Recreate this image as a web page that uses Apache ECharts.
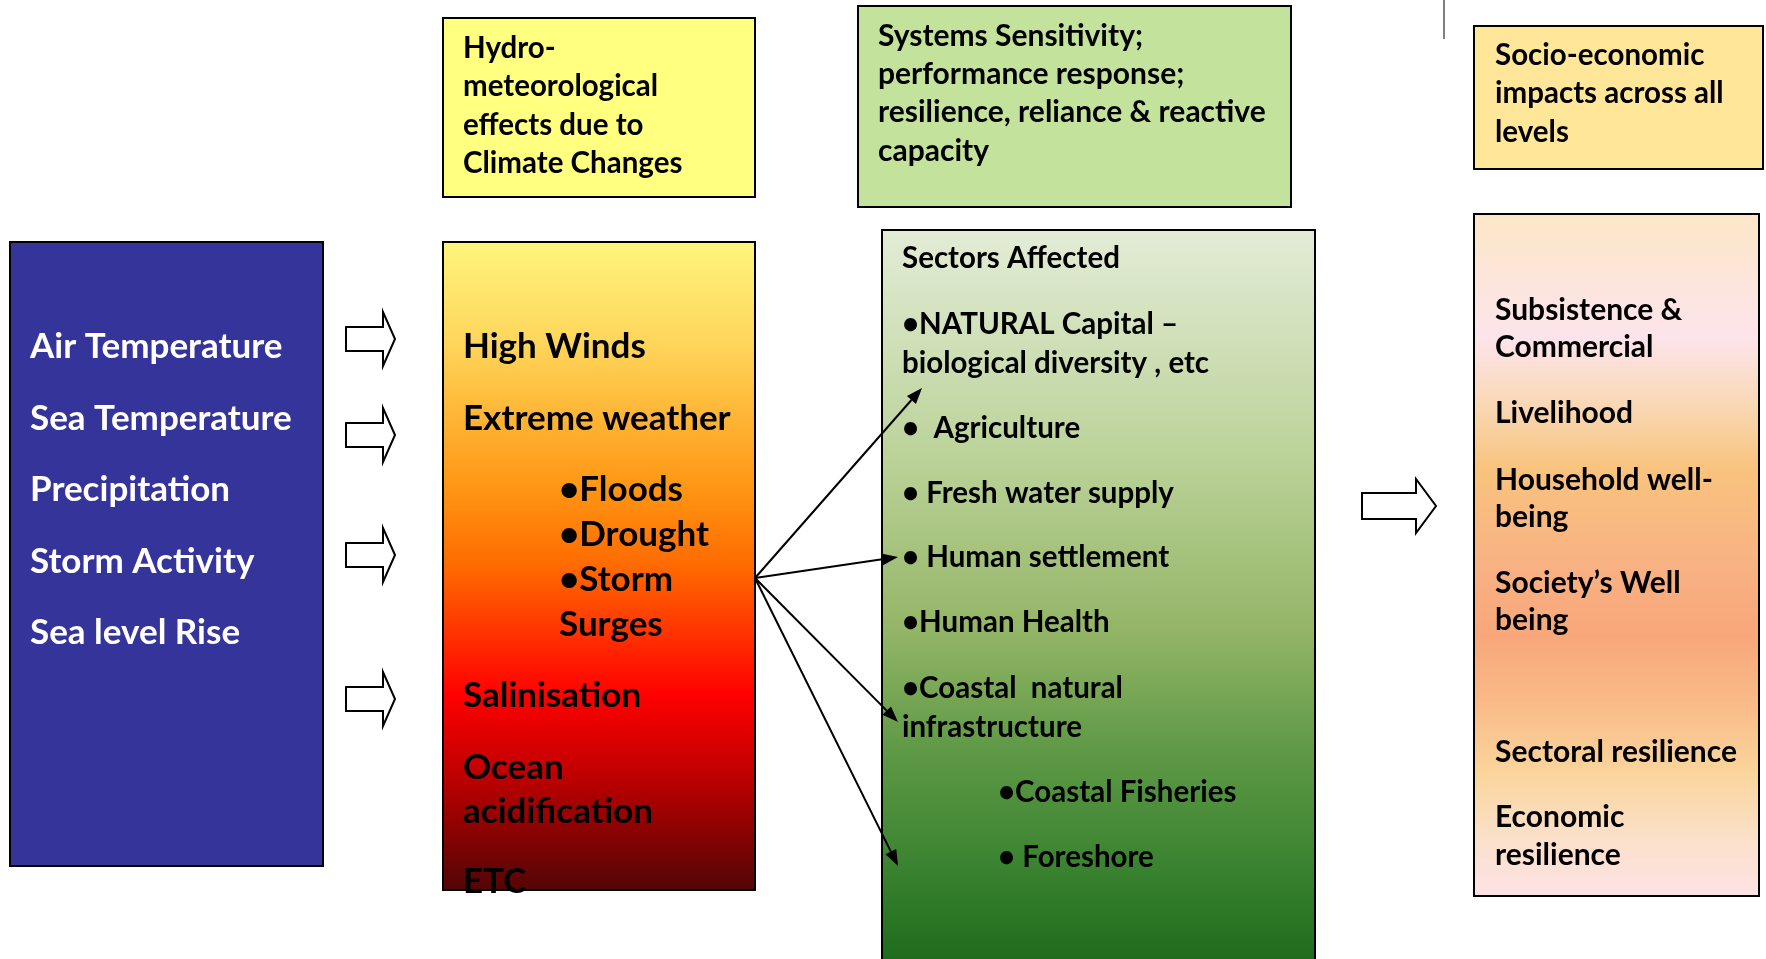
<!DOCTYPE html>
<html>
<head>
<meta charset="utf-8">
<script src="https://cdn.jsdelivr.net/npm/echarts@6/dist/echarts.min.js"></script>
<style>
html, body {margin: 0; padding: 0; background: #fff;}
#main {width: 1766px; height: 959px;}
</style>
</head>
<body>
<div id="main"></div>
<script>
// texts of the diagram
var hydroTitle = ['Hydro-', 'meteorological', 'effects due to', 'Climate Changes'];
var systemsTitle = ['Systems Sensitivity;', 'performance response;', 'resilience, reliance & reactive', 'capacity'];
var socioTitle = ['Socio-economic', 'impacts across all', 'levels'];
var drivers = ['Air Temperature', 'Sea Temperature', 'Precipitation', 'Storm Activity', 'Sea level Rise'];
var effects = ['High Winds', 'Extreme weather', '•Floods', '•Drought', '•Storm', 'Surges', 'Salinisation', 'Ocean', 'acidification', 'ETC'];
var effectsIndent = [0, 0, 1, 1, 1, 1, 0, 0, 0, 0];
var sectors = ['Sectors Affected', '•NATURAL Capital –', 'biological diversity , etc', '•  Agriculture', '• Fresh water supply',
    '• Human settlement', '•Human Health', '•Coastal  natural', 'infrastructure', '•Coastal Fisheries', '• Foreshore'];
var sectorsIndent = [0, 0, 0, 0, 0, 0, 0, 0, 0, 1, 1];
var impacts = ['Subsistence &', 'Commercial', 'Livelihood', 'Household well-', 'being', 'Society’s Well', 'being',
    'Sectoral resilience', 'Economic', 'resilience'];

// layout (px)
var driversY = [347, 419, 490, 562, 633];
var effectsY = [347, 419, 490, 535, 580, 625, 696, 768, 812, 882];
var sectorsY = [258, 324, 363, 428, 493, 557, 622, 688, 727, 792, 857];
var impactsY = [310, 347, 413, 480, 517, 583, 620, 752, 817, 855];
var blockArrowsY = [339, 435, 555, 699];
var connectorEnds = [[922, 388], [898, 557], [898, 722], [898, 866]];
var connectorStart = [755, 578];

var FONT = 'Lato, "Open Sans", sans-serif';

function grad(stops) {
    return {
        type: 'linear', x: 0, y: 0, x2: 0, y2: 1,
        colorStops: stops.map(function (s) { return {offset: s[0], color: s[1]}; })
    };
}

function box(x, y, w, h, fill, z) {
    return {
        type: 'rect', z: z || 1,
        shape: {x: x, y: y, width: w, height: h},
        style: {fill: fill, stroke: '#000', lineWidth: 2}
    };
}

function label(x, y, text, size, color, va) {
    return {
        type: 'text', z: 10, x: x, y: y,
        style: {
            text: text, fill: color || '#000',
            font: 'bold ' + size + 'px ' + FONT,
            align: 'left', verticalAlign: va || 'middle'
        }
    };
}

function blockArrow(x0, x1, xh, cy, bodyH, headH) {
    return {
        type: 'polygon', z: 5,
        shape: {points: [
            [x0, cy - bodyH / 2], [xh, cy - bodyH / 2], [xh, cy - headH / 2], [x1, cy],
            [xh, cy + headH / 2], [xh, cy + bodyH / 2], [x0, cy + bodyH / 2]
        ]},
        style: {fill: '#fff', stroke: '#000', lineWidth: 2}
    };
}

function connector(from, to) {
    var a = Math.atan2(to[1] - from[1], to[0] - from[0]);
    var L = 16, w = 6;
    var bx = to[0] - L * Math.cos(a), by = to[1] - L * Math.sin(a);
    var nx = -Math.sin(a) * w, ny = Math.cos(a) * w;
    return [{
        type: 'line', z: 6,
        shape: {x1: from[0], y1: from[1], x2: bx, y2: by},
        style: {stroke: '#000', lineWidth: 2}
    }, {
        type: 'polygon', z: 6,
        shape: {points: [[to[0], to[1]], [bx + nx, by + ny], [bx - nx, by - ny]]},
        style: {fill: '#000'}
    }];
}

var els = [];

// header boxes
els.push(box(443, 18, 312, 179, '#ffff80'));
els.push(label(463, 29, hydroTitle.join('\n'), 29.5, '#000', 'top'));
els[els.length - 1].style.lineHeight = 38.5;

els.push(box(858, 6, 433, 201, '#c3e29b'));
els.push(label(878, 17, systemsTitle.join('\n'), 30, '#000', 'top'));
els[els.length - 1].style.lineHeight = 38.3;

els.push(box(1474, 26, 289, 143, '#ffe699'));
els.push(label(1495, 36, socioTitle.join('\n'), 29.5, '#000', 'top'));
els[els.length - 1].style.lineHeight = 38.5;

els.push({type: 'line', shape: {x1: 1444, y1: 0, x2: 1444, y2: 39}, style: {stroke: '#000', lineWidth: 1}});

// drivers
els.push(box(10, 242, 313, 624, '#35349a'));
drivers.forEach(function (t, i) { els.push(label(30, driversY[i], t, 35, '#fff')); });

// block arrows
blockArrowsY.forEach(function (y) { els.push(blockArrow(346, 395, 383, y, 24, 54)); });
els.push(blockArrow(1362, 1436, 1416, 506, 26, 54));

// effects
els.push(box(443, 242, 312, 648, grad([
    [0, '#fff57d'], [0.16, '#fed55a'], [0.27, '#feb535'], [0.38, '#fe9614'], [0.5, '#ff6a00'],
    [0.65, '#ff1a00'], [0.7, '#ff0000'], [0.82, '#c00000'], [1, '#520505']
])));
effects.forEach(function (t, i) {
    els.push(label(effectsIndent[i] ? 559 : 463, effectsY[i], t, 35));
});

// sectors
els.push(box(882, 230, 433, 745, grad([
    [0, '#e3ecd6'], [0.3, '#bcd39a'], [0.53, '#95b668'], [0.7, '#5e9945'], [0.84, '#3d8532'], [0.98, '#1d6c1c'], [1, '#1d6c1c']
])));
sectors.forEach(function (t, i) {
    els.push(label(sectorsIndent[i] ? 998 : 902, sectorsY[i], t, 29.5));
});

connectorEnds.forEach(function (e) {
    els = els.concat(connector(connectorStart, e));
});

// impacts
els.push(box(1474, 214, 285, 682, grad([
    [0, '#fbe7c6'], [0.18, '#fde4ec'], [0.29, '#f9d6b0'], [0.37, '#f8c47e'], [0.52, '#f8b183'],
    [0.62, '#f8a77a'], [0.71, '#f9b987'], [0.82, '#fad59c'], [0.91, '#fbe0c8'], [1, '#fde2e6']
])));
impacts.forEach(function (t, i) { els.push(label(1495, impactsY[i], t, 30)); });

var chart = echarts.init(document.getElementById('main'));
chart.setOption({
    backgroundColor: '#fff',
    animation: false,
    graphic: {elements: els}
});
</script>
</body>
</html>
